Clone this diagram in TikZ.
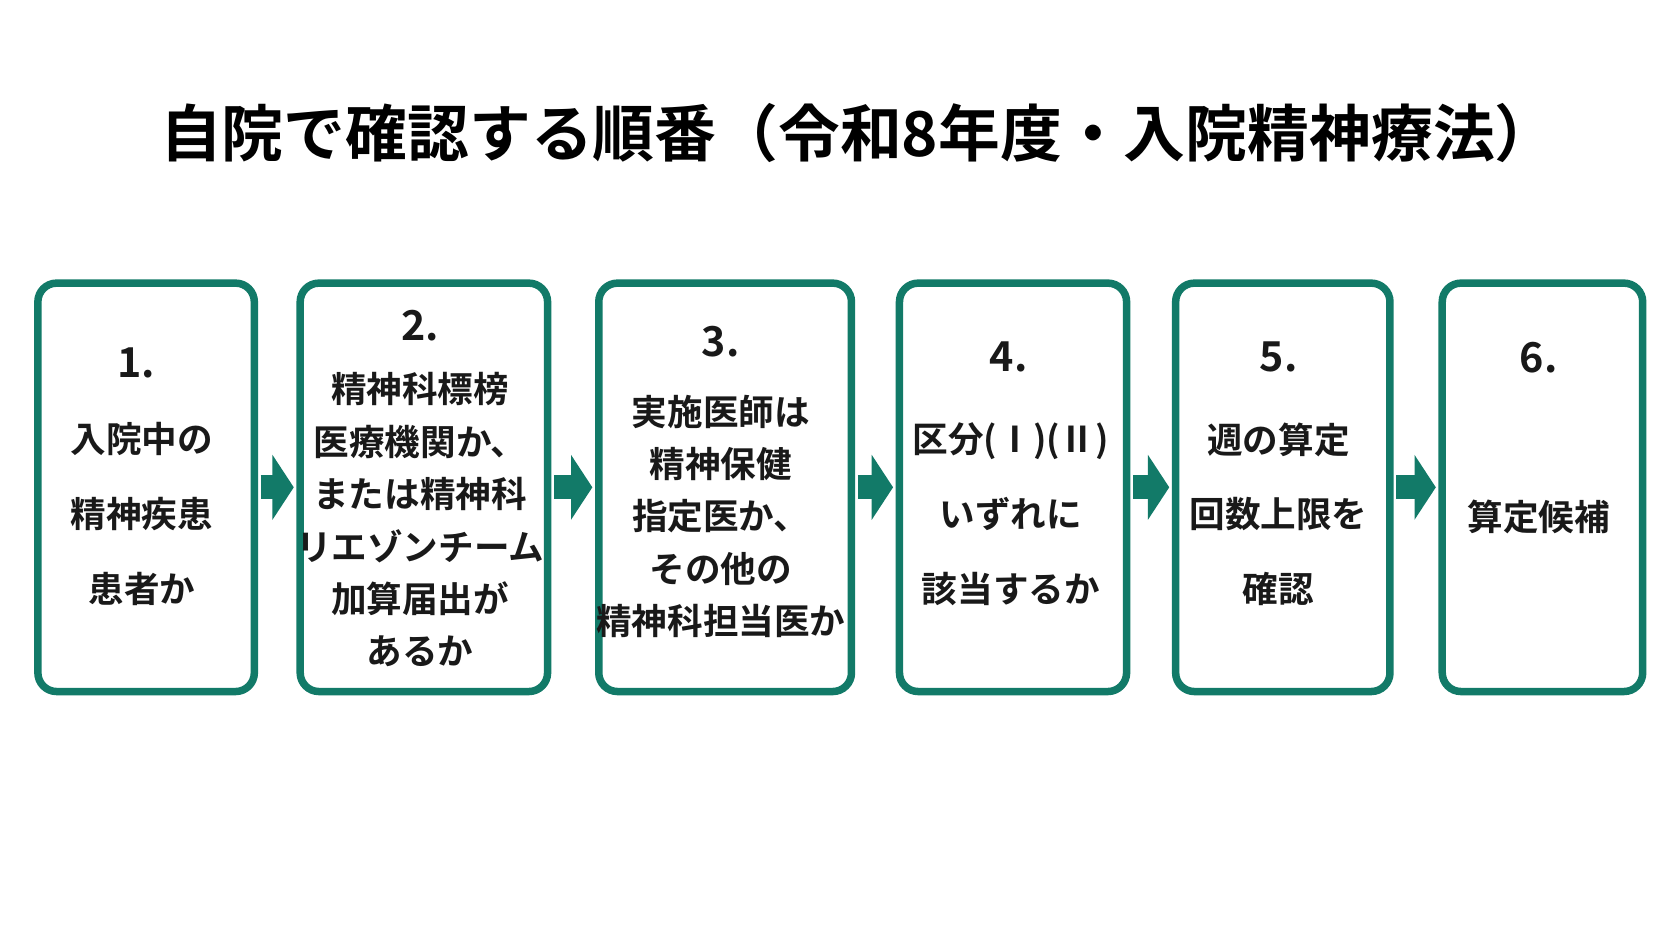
\documentclass[tikz,border=0pt]{standalone}
\usepackage{fontspec}
\setmainfont{Noto Sans CJK JP}[BoldFont={* Bold}]
\usetikzlibrary{arrows.meta, positioning}
\definecolor{stepgreen}{RGB}{18,122,104}
\tikzset{
    stepbox/.style={
        rectangle,
        draw=stepgreen,
        line width=4pt,
        rounded corners=10pt,
        fill=white,
        anchor=north west
    },
    num/.style={
        font=\bfseries\fontsize{22}{22}\selectfont,
        text=black!90
    },
    body/.style={
        font=\bfseries\fontsize{19}{28}\selectfont,
        align=center,
        text=black!90
    },
    flow/.style={
        draw=stepgreen,
        line width=0.45cm,
        -{Triangle[length=0.4cm, width=1.2cm]},
        shorten <=0.05cm,
        shorten >=0.05cm
    }
}
\begin{document}
\begin{tikzpicture}[x=0.02cm, y=-0.02cm]
\useasboundingbox[fill=white] (0,0) rectangle (1568,882);

% Title
\node[font=\bfseries\fontsize{33}{33}\selectfont] (title) at (805,125) {自院で確認する順番（令和8年度・入院精神療法）};

% Step boxes
\node[stepbox, minimum width=203*0.02cm, minimum height=383*0.02cm] (b1) at (32,262) {};
\node[stepbox, minimum width=232*0.02cm, minimum height=383*0.02cm] (b2) at (278,262) {};
\node[stepbox, minimum width=237*0.02cm, minimum height=383*0.02cm] (b3) at (558,262) {};
\node[stepbox, minimum width=213*0.02cm, minimum height=383*0.02cm] (b4) at (840,262) {};
\node[stepbox, minimum width=201*0.02cm, minimum height=383*0.02cm] (b5) at (1099,262) {};
\node[stepbox, minimum width=188*0.02cm, minimum height=383*0.02cm] (b6) at (1349,262) {};

% Numbers
\node[num] (n1) at (128,340) {1.};
\node[num] (n2) at (394,305) {2.};
\node[num] (n3) at (676,320) {3.};
\node[num] (n4) at (946,335) {4.};
\node[num] (n5) at (1199,335) {5.};
\node[num] (n6) at (1443,335) {6.};

% Texts
\node[body, font=\bfseries\fontsize{19}{40}\selectfont, anchor=north] (t1) at (133,390) {入院中の\\精神疾患\\患者か};
\node[body, anchor=north] (t2) at (394,343) {精神科標榜\\医療機関か、\\または精神科\\リエゾンチーム\\加算届出が\\あるか};
\node[body, anchor=north] (t3) at (676,364) {実施医師は\\精神保健\\指定医か、\\その他の\\精神科担当医か};
\node[body, font=\bfseries\fontsize{19}{40}\selectfont, anchor=north] (t4) at (948,390) {区分(Ⅰ)(Ⅱ)\\いずれに\\該当するか};
\node[body, font=\bfseries\fontsize{19}{40}\selectfont, anchor=north] (t5) at (1199,390) {週の算定\\回数上限を\\確認};
\node[body] (t6) at (1443,485) {算定候補};

% Arrows
\foreach \a/\b in {b1/b2, b2/b3, b3/b4, b4/b5, b5/b6}
    \draw[flow] (\a.east) -- (\b.west);

\end{tikzpicture}
\end{document}
